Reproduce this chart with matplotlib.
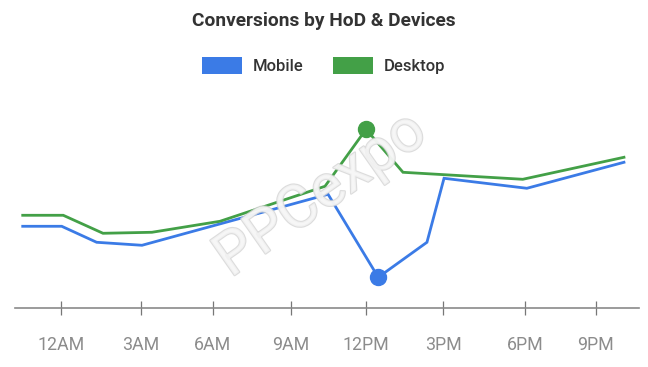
import matplotlib
matplotlib.use("Agg")
import matplotlib.pyplot as plt
from matplotlib.patches import Patch
import matplotlib.patheffects as pe

plt.rcParams['font.family'] = ['Roboto', 'DejaVu Sans']

# Data (hour of day as x, conversions as y)
mobile_hours = [-1.49, 0.04, 1.41, 3.19, 10.49, 12.46, 14.37, 15.04, 18.29, 22.1]
mobile_vals = [82, 82, 66, 63, 114, 31, 66, 130, 120, 146]
desktop_hours = [-1.49, 0.10, 1.66, 3.58, 6.25, 10.37, 11.98, 13.43, 18.13, 22.1]
desktop_vals = [93, 93, 75, 76, 87, 122, 179, 136, 129, 151]
tick_hours = [0, 3.15, 5.97, 9.04, 11.98, 15.0, 18.21, 21.0]
tick_labels = ['12AM', '3AM', '6AM', '9AM', '12PM', '3PM', '6PM', '9PM']

blue = '#3b7be6'
green = '#43a047'

fig = plt.figure(figsize=(6.48, 3.67), dpi=100)
ax = fig.add_axes([15/648, 0.16, (639-15)/648, 0.7548-0.16])

ax.plot(mobile_hours, mobile_vals, color=blue, lw=2.0, solid_joinstyle='miter', zorder=3)
ax.plot(desktop_hours, desktop_vals, color=green, lw=2.0, solid_joinstyle='miter', zorder=3)

# highlighted points
i_min = mobile_vals.index(min(mobile_vals))
i_max = desktop_vals.index(max(desktop_vals))
ax.plot([mobile_hours[i_min]], [mobile_vals[i_min]], 'o', color=blue, ms=11.5, zorder=4, clip_on=False)
ax.plot([desktop_hours[i_max]], [desktop_vals[i_max]], 'o', color=green, ms=11.5, zorder=4, clip_on=False)

ax.set_xlim(-1.793, 22.69)
ax.set_ylim(0, 218.3)

for s in ['top', 'right', 'left']:
    ax.spines[s].set_visible(False)
ax.spines['bottom'].set_color('#8a8a8a')
ax.spines['bottom'].set_linewidth(1.2)
ax.set_yticks([])
ax.set_xticks(tick_hours)
ax.set_xticklabels(tick_labels)
ax.tick_params(axis='x', direction='inout', length=10, width=0.9, color='#777777',
               labelcolor='#8c8c8c', labelsize=12.8, pad=15)

# watermark
ax.text(0.49, 0.52, 'PPCexpo', transform=ax.transAxes, rotation=35, fontsize=43,
        ha='center', va='center', color='#f6f6f6', alpha=0.8, zorder=5,
        path_effects=[pe.withStroke(linewidth=1.6, foreground='#d4d4d4')])

fig.text(324/648, 1-21/367, 'Conversions by HoD & Devices', ha='center', va='center',
         fontsize=13.8, fontweight='bold', color='#333333')

handles = [Patch(facecolor=blue, edgecolor='none', label='Mobile'),
           Patch(facecolor=green, edgecolor='none', label='Desktop')]
fig.legend(handles=handles, loc='center', bbox_to_anchor=(323.5/648, 1-65.5/367), ncol=2,
           frameon=False, handlelength=2.4, handleheight=1.26,
           handletextpad=0.66, columnspacing=1.74, borderpad=0,
           prop={'weight': 'medium', 'size': 12})
for t in fig.legends[0].get_texts():
    t.set_color('#333333')

fig.savefig('out.png', dpi=100)
